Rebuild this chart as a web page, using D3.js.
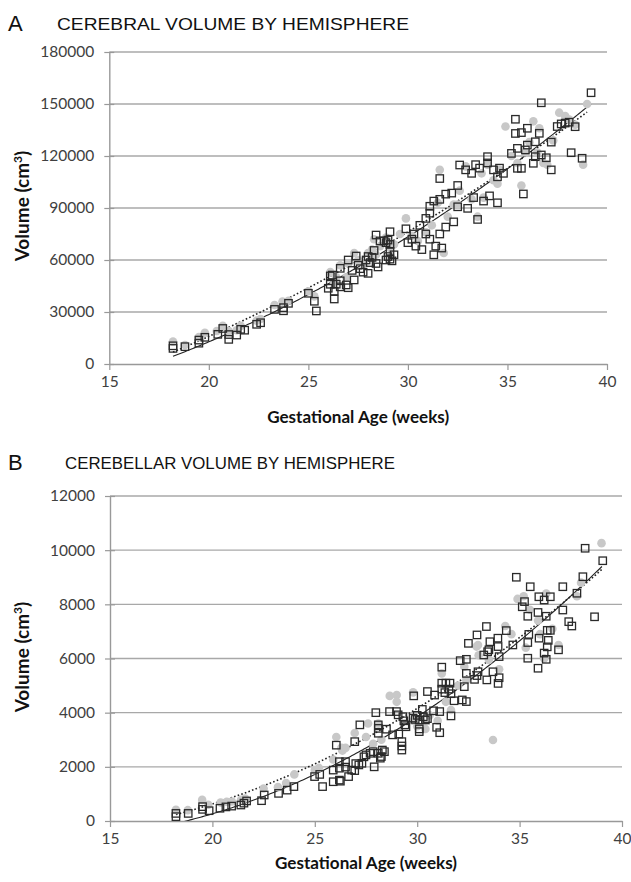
<!DOCTYPE html>
<html><head><meta charset="utf-8">
<script src="https://d3js.org/d3.v7.min.js"></script>
<style>
body { margin: 0; background: #fff; }
.tick text { font-family: Lato, "Open Sans", sans-serif; font-size: 15.5px; fill: #404040; }
</style>
</head>
<body>
<svg id="chart" width="631" height="882"></svg>
<script>
// tick values
var ageTicks = [15, 20, 25, 30, 35, 40];
var cerebralTicks = [0, 30000, 60000, 90000, 120000, 150000, 180000];
var cerebellarTicks = [0, 2000, 4000, 6000, 8000, 10000, 12000];

// [gestational age (weeks), volume]
var cerebralSquares = [
  [18.2,9000],[18.2,10500],[18.8,10000],[19.5,12000],[19.5,13800],[19.8,15400],[20.45,17100],[20.7,20500],
  [21.0,14200],[21.0,17000],[21.4,16700],[21.6,20000],[21.8,19500],[22.4,22900],[22.6,23800],[23.3,31500],
  [23.75,30700],[23.75,32500],[24.0,35000],[25.0,40800],[25.3,36200],[25.4,30600],
  [26.0,43700],[26.1,46000],[26.1,50800],[26.2,51300],[26.3,37500],[26.3,42000],[26.4,46000],[26.6,44500],
  [26.6,48000],[26.6,55200],[26.9,45600],[27.0,60000],[27.0,44000],[27.2,54000],[27.3,48500],[27.4,62300],
  [27.5,57000],[27.6,55000],[27.75,53000],[28.0,52300],
  [27.9,60000],[28.0,62000],[28.1,58500],[28.2,61500],[28.3,65500],[28.4,58000],[28.5,56000],[28.4,74400],
  [28.6,71000],[28.8,71000],[28.9,70000],[29.0,71500],[29.1,69000],[29.1,65000],[28.9,60000],[29.1,60500],
  [29.2,59500],[29.1,76300],[29.3,63000],[29.0,62000],
  [29.9,78000],[30.0,70000],[30.2,72000],[30.3,75000],[30.4,68000],[30.6,80000],[30.7,66000],[30.9,75000],
  [31.1,72000],[31.3,63000],[31.4,68000],[31.6,75000],[31.7,66900],[31.9,79000],[32.3,82000],[30.9,84000],
  [31.1,87000],[31.1,91000],[31.3,94000],[31.6,95000],[31.9,98000],[32.2,98600],[32.5,103000],[32.5,90700],
  [33.0,89800],[33.5,83400],[31.6,107000],[32.6,114800],[32.9,112000],[33.2,110000],[33.4,115000],[33.6,113000],
  [34.0,119600],[34.0,116000],[34.3,112000],[34.5,108000],[34.6,113000],[33.8,94000],[34.1,97000],[34.5,93000],
  [33.3,96000],[34.8,110000],
  [35.2,121500],[35.5,124400],[35.5,112900],[35.7,112900],[35.8,98100],[35.9,123500],[36.0,126300],[36.3,115800],
  [36.4,119600],[36.4,128200],[36.6,133100],[36.7,120600],[36.95,119000],[37.2,128000],[37.2,112000],[35.4,141200],
  [35.4,133000],[35.7,133500],[36.0,136000],[36.7,150700],[37.5,137000],[37.7,138500],[37.9,139000],[38.1,139500],
  [38.4,136900],[38.2,121900],[38.75,118700],[39.2,156500]
];
var cerebralCircles = [
  [18.2,13000],[18.8,11000],[19.5,15500],[19.8,18000],[20.4,19000],[20.7,22000],[21.0,19000],[21.4,19500],
  [21.6,22000],[22.4,25000],[22.6,26000],[23.3,34000],[23.7,36000],[24.0,36500],[25.0,42000],[25.3,39000],
  [26.1,53000],[26.3,47000],[26.4,50000],[26.6,57000],[26.9,50000],[27.0,58000],[27.3,64000],[27.5,60000],
  [27.8,58000],[28.0,64000],[28.2,66000],[28.4,63000],[28.3,72000],[28.6,68000],[28.9,73000],[29.1,67000],
  [29.3,69000],[29.6,75000],[29.9,84000],[30.2,74000],[30.5,71000],[30.9,76000],[31.2,80000],[31.6,112000],
  [31.5,93000],[31.8,64000],[32.0,85000],[32.3,92000],[32.6,100000],[32.9,114000],[33.2,95000],[33.5,85000],
  [33.7,110000],[34.0,115000],[34.3,106000],[34.6,112000],[34.9,137000],[35.2,120000],[35.5,116000],[35.7,103000],
  [35.9,122000],[36.1,128000],[36.3,140000],[36.5,122000],[36.6,136000],[36.8,116000],[37.0,115000],[37.3,129000],
  [37.6,145000],[37.9,143000],[38.1,141000],[38.4,138000],[38.8,115000],[39.0,150000],[32.5,92000],[33.8,96000],
  [34.5,104000]
];

var cerebellarSquares = [
  [18.22,160],[18.22,280],[18.82,280],[19.52,530],[19.52,430],[19.84,380],[20.37,470],[20.66,520],
  [20.94,550],[21.39,590],[21.54,660],[21.67,740],[22.4,750],[22.53,960],[23.23,1020],[23.65,1140],
  [23.98,1270],[24.99,1640],[25.24,1720],[25.38,1270],
  [25.9,1450],[25.9,1880],[26.05,2800],[26.2,1510],[26.25,1470],[26.2,1950],[26.2,2190],[26.5,1990],
  [26.5,2190],[26.65,1640],[26.8,1880],[26.95,2930],[27.0,2120],[27.15,2070],[27.2,3550],[26.95,1860],
  [27.3,2130],[27.4,2370],[27.5,2440],[27.7,2500],[27.85,2560],[27.9,2000],[28.1,2500],[28.2,2320],
  [28.25,2380],[28.3,2620],[28.4,2560],
  [27.98,4000],[28.1,3420],[28.1,3240],[28.1,3550],[28.5,3390],[28.65,4040],[28.99,4040],[29.07,3920],
  [28.8,3180],[29.1,3210],[29.25,2930],[29.25,2770],[29.25,2620],[29.3,3850],[29.35,3700],[29.4,3550],
  [29.45,3480],[29.8,3800],[29.9,3750],[30.0,3900],[29.83,4620],[30.1,3730],[30.1,3400],[30.1,3300],
  [30.3,3850],[30.4,3730],[30.5,3780],[30.25,4120],[30.5,4780],[30.85,4650],[30.8,4070],[30.95,3460],
  [31.1,3260],[31.1,4040],
  [31.2,5680],[31.2,5090],[31.4,5090],[31.6,5090],[31.2,4870],[31.35,4740],[31.55,4870],[31.65,4700],
  [31.65,3880],[31.8,4440],[32.2,4470],[32.4,4410],[32.3,4960],[32.1,5920],[32.4,5970],[32.4,5450],
  [32.8,5230],[32.97,5510],[33.4,5210],[33.7,5510],[33.25,6130],[33.5,6320],[32.5,6560],
  [39.06,9610],[38.2,10070],[38.09,9020],[37.8,8410],[38.66,7540],[37.11,8650],[37.11,7790],[37.4,7360],
  [37.55,7200],[34.84,9000],[35.52,8650],[35.94,8280],[36.2,8160],[36.5,8280],[35.24,8100],[35.13,7910],
  [35.4,7560],[35.45,6890],[35.9,7700],[36.3,7560],[36.35,7040],[36.5,7040],[36.4,6670],[35.95,6750],
  [36.2,6200],[36.35,6430],[35.4,6590],[35.4,6010],[35.9,5640],[36.3,5970],[36.9,6320],[34.67,6500],
  [34.35,7030],[33.94,6750],[33.38,7180],[32.92,6870],[33.55,6620],[33.95,6440],[34.0,6070],[33.44,6250],
  [32.92,5370],[33.95,5080],[34.0,5290]
];
var cerebellarCircles = [
  [18.22,410],[18.8,400],[19.5,780],[19.8,600],[20.4,680],[20.7,710],[20.95,720],[21.4,780],
  [21.6,830],[22.5,1200],[23.2,1250],[23.6,1400],[24.0,1720],[25.0,1880],[25.2,1960],[25.9,2270],
  [26.05,3100],[26.3,2700],[26.35,2600],[26.5,2700],[26.95,3250],[27.5,3100],[27.6,3600],[27.85,2850],
  [28.1,3600],[28.25,3000],[28.66,4620],[29.0,4650],[29.0,4400],[29.8,3700],[29.8,4750],[30.0,3500],
  [30.4,3400],[31.0,3700],[31.2,5450],[31.65,4100],[32.4,5200],[32.3,5700],[32.97,6500],[32.9,6440],
  [33.0,6120],[33.5,5950],[33.7,2990],[34.3,7200],[34.6,6900],[35.2,8300],[35.9,7400],[36.0,6900],
  [36.6,7100],[36.9,6500],[38.0,8800],[37.8,8300],[39.0,10260],[35.5,7800],[36.3,8400],[34.9,8200],
  [35.3,6400],[36.2,6000],[34.0,5600],[32.0,5000],[30.6,3900],[31.4,4400]
];

// least squares 2nd order polynomial, like the spreadsheet trendline
function quadFit(pts) {
  var s = [0,0,0,0,0], t = [0,0,0];
  pts.forEach(function(p) {
    var xp = 1;
    for (var i = 0; i < 5; i++) { s[i] += xp; if (i < 3) t[i] += xp * p[1]; xp *= p[0]; }
  });
  var m = [[s[0],s[1],s[2],t[0]],[s[1],s[2],s[3],t[1]],[s[2],s[3],s[4],t[2]]];
  for (var c = 0; c < 3; c++) {
    for (var r = c + 1; r < 3; r++) {
      var f = m[r][c] / m[c][c];
      for (var k = c; k < 4; k++) m[r][k] -= f * m[c][k];
    }
  }
  var b = [0,0,0];
  for (var r2 = 2; r2 >= 0; r2--) {
    var v = m[r2][3];
    for (var k2 = r2 + 1; k2 < 3; k2++) v -= m[r2][k2] * b[k2];
    b[r2] = v / m[r2][r2];
  }
  return function(x) { return b[0] + b[1] * x + b[2] * x * x; };
}

var svg = d3.select('#chart');

function drawPanel(o) {
  var x = d3.scaleLinear().domain([15, 40]).range([o.left, o.right]);
  var y = d3.scaleLinear().domain([0, o.yTicks[o.yTicks.length - 1]]).range([o.bottom, o.top]);
  var g = svg.append('g');

  svg.append('text').attr('x', 8).attr('y', o.titleY + 1)
    .style('font-family', '"Liberation Sans", Arial, sans-serif').style('font-size', '22px').style('fill', '#111')
    .text(o.letter);
  svg.append('text').attr('x', o.titleX).attr('y', o.titleY)
    .attr('textLength', o.titleW).attr('lengthAdjust', 'spacingAndGlyphs')
    .style('font-family', '"Liberation Sans", Arial, sans-serif').style('font-size', '17px').style('fill', '#111')
    .text(o.title);

  // gridlines
  g.selectAll('line.grid').data(o.yTicks.slice(1)).enter().append('line')
    .attr('x1', o.left).attr('x2', o.right)
    .attr('y1', function(d) { return y(d); }).attr('y2', function(d) { return y(d); })
    .attr('stroke', '#a8a8a8').attr('stroke-width', 1.4);

  var ya = g.append('g').attr('transform', 'translate(' + o.left + ',0)')
    .call(d3.axisLeft(y).tickValues(o.yTicks).tickSizeInner(5).tickSizeOuter(0).tickPadding(10).tickFormat(d3.format('d')));
  var xa = g.append('g').attr('transform', 'translate(0,' + o.bottom + ')')
    .call(d3.axisBottom(x).tickValues(ageTicks).tickSizeInner(6).tickSizeOuter(0).tickPadding(6));
  [ya, xa].forEach(function(a) {
    a.select('.domain').attr('stroke', '#999').attr('stroke-width', 1.4);
    a.selectAll('.tick line').attr('stroke', '#999').attr('stroke-width', 1.2);
  });
  ya.selectAll('.tick line').attr('x2', 5).attr('x1', -5);

  var clipId = 'clip' + o.letter;
  svg.append('clipPath').attr('id', clipId).append('rect')
    .attr('x', o.left).attr('y', o.top).attr('width', o.right - o.left).attr('height', o.bottom - o.top);

  var pts = g.append('g');
  pts.selectAll('circle').data(o.circles).enter().append('circle')
    .attr('cx', function(d) { return x(d[0]); }).attr('cy', function(d) { return y(d[1]); })
    .attr('r', 4.3).attr('fill', '#c8c8c8');

  // trendlines
  var lines = g.append('g').attr('clip-path', 'url(#' + clipId + ')');
  [[o.squares, null, 1.1], [o.circles, '1.6,2.2', 1.6]].forEach(function(s) {
    var fit = quadFit(s[0]);
    var ext = d3.extent(s[0], function(d) { return d[0]; });
    var xs = d3.range(ext[0], ext[1] + 0.05, 0.1);
    lines.append('path').datum(xs)
      .attr('d', d3.line().x(function(d) { return x(d); }).y(function(d) { return y(fit(d)); }))
      .attr('fill', 'none').attr('stroke', '#222').attr('stroke-width', s[2])
      .attr('stroke-dasharray', s[1]);
  });

  pts.selectAll('rect').data(o.squares).enter().append('rect')
    .attr('x', function(d) { return x(d[0]) - 3.7; }).attr('y', function(d) { return y(d[1]) - 3.7; })
    .attr('width', 7.4).attr('height', 7.4)
    .attr('fill', 'none').attr('stroke', '#2a2a2a').attr('stroke-width', 1.3);
  pts.raise();

  g.append('text').attr('x', (o.left + o.right) / 2).attr('y', o.bottom + o.xTitleDy)
    .attr('text-anchor', 'middle').attr('textLength', 182).attr('lengthAdjust', 'spacingAndGlyphs')
    .style('font-family', 'Lato, sans-serif').style('font-weight', 'bold').style('font-size', '17px').style('fill', '#111')
    .text('Gestational Age (weeks)');
  var yt = g.append('text')
    .attr('transform', 'translate(29,' + o.yTitleY + ') rotate(-90)')
    .attr('text-anchor', 'middle')
    .style('font-family', 'Lato, sans-serif').style('font-weight', 'bold').style('font-size', '19px').style('fill', '#111');
  yt.append('tspan').text('Volume (cm');
  yt.append('tspan').attr('dy', -7).style('font-size', '12px').text('3');
  yt.append('tspan').attr('dy', 7).text(')');
}

drawPanel({
  letter: 'A', title: 'CEREBRAL VOLUME BY HEMISPHERE', titleX: 57, titleY: 30, titleW: 352,
  left: 109.3, right: 607, top: 52, bottom: 364, yTitleY: 206, xTitleDy: 59,
  yTicks: cerebralTicks, squares: cerebralSquares, circles: cerebralCircles
});
drawPanel({
  letter: 'B', title: 'CEREBELLAR VOLUME BY HEMISPHERE', titleX: 65, titleY: 469, titleW: 330,
  left: 110, right: 622, top: 496, bottom: 821, yTitleY: 657, xTitleDy: 48,
  yTicks: cerebellarTicks, squares: cerebellarSquares, circles: cerebellarCircles
});
</script>
</body></html>
